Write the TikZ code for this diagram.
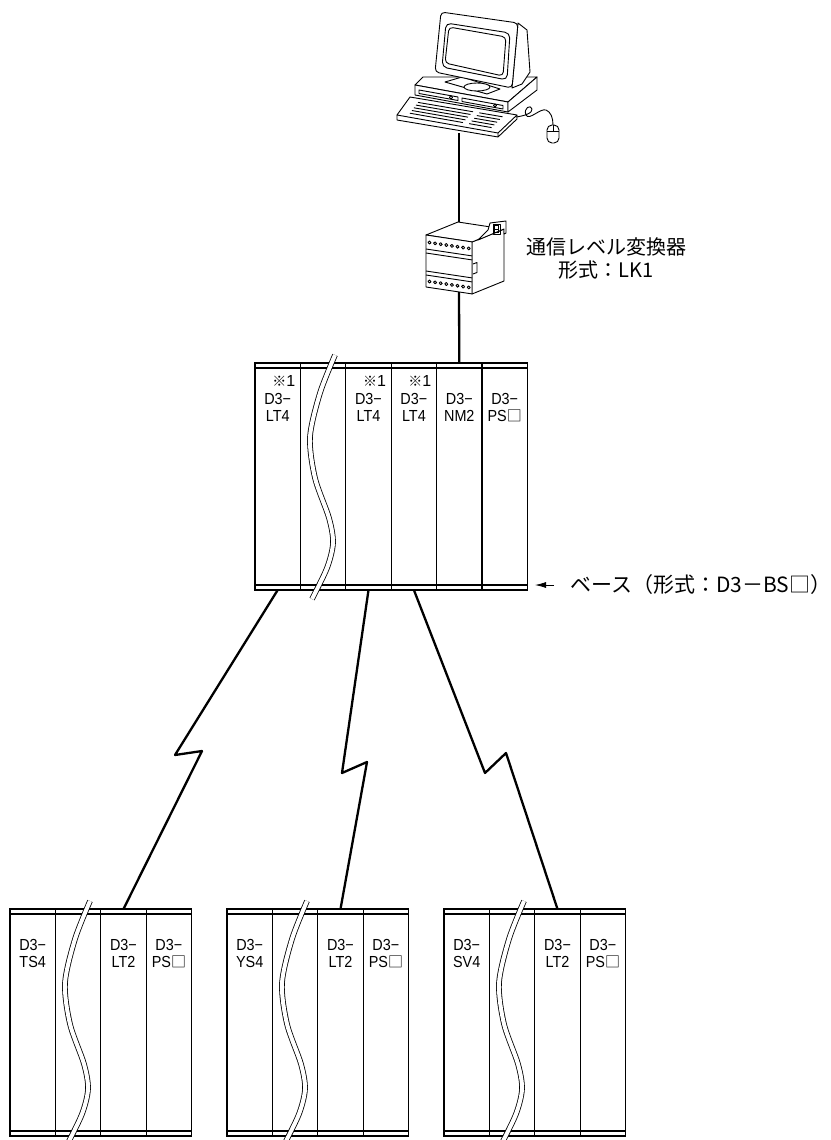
\documentclass[tikz,border=0pt]{standalone}
\usepackage{fontspec}
\setmainfont{Liberation Sans}
\newfontfamily\jpfont{Noto Sans CJK JP}
\newfontfamily\slotfont[FakeStretch=0.9]{Liberation Sans}
\usetikzlibrary{arrows.meta, calc}

\newcommand{\baserack}[4]{%
  \begin{scope}[shift={(#2,#3)}]
    \draw[rackline] (0,0) rectangle (#4*45.4,227);
    \draw[rackline] (0,5) -- (#4*45.4,5) (0,222) -- (#4*45.4,222);
    \foreach \i in {1,...,#4} {
      \draw[rackline] (\i*45.4,0) -- (\i*45.4,227);
      \coordinate (#1-\i-top) at (\i*45.4-22.7,0);
      \coordinate (#1-\i-bot) at (\i*45.4-22.7,227);
    }
    \draw[breakline] plot[smooth] coordinates {(80,-8) (65,30) (55,74) (60,115) (74,155) (78,180) (72,205) (57,236)};
  \end{scope}}
\newcommand{\sq}{{\jpfont\fontsize{7.5}{7.5}\selectfont □}}

\begin{document}
\begin{tikzpicture}[x=0.5pt, y=-0.5pt,
  rackline/.style={line width=0.6pt},
  breakline/.style={double, double distance=2pt, line width=0.4pt},
  link/.style={line width=1.15pt, line join=round},
  sketch/.style={line width=0.45pt, line join=round},
  slot/.style={font=\slotfont\fontsize{8}{8.5}\selectfont, align=center, anchor=north, inner sep=0pt},
  note/.style={font=\fontsize{8}{8}\selectfont, anchor=north, inner sep=0pt},
  jp/.style={font=\jpfont\fontsize{10}{11.5}\selectfont, align=center, inner sep=0pt},
  pointer/.style={line width=0.4pt, -{Latex[length=5.5pt, width=3pt]}}]
\useasboundingbox (0,0) rectangle (830,1140);

\draw[sketch, fill=white] (415,85) -- (423,77) -- (537,77) -- (508,102) -- cycle;
\draw[sketch, fill=white] (415,85) -- (508,102) -- (508,112) -- (415,95) -- cycle;
\draw[sketch, fill=white] (508,102) -- (537,77) -- (537,90) -- (508,112) -- cycle;
\draw[sketch] (419,90) -- (458,97) -- (458,100.5) -- (419,93.5) -- cycle;
\draw[sketch] (462,98) -- (503,105.5) -- (503,109) -- (462,101.5) -- cycle;
\draw[sketch] (451,97.3) circle (0.8pt) (495,105.5) circle (0.8pt);

\coordinate (kb-bl) at (410,97);
\coordinate (kb-br) at (517,115);
\coordinate (kb-fr) at (498,133);
\coordinate (kb-fl) at (397,115);
\draw[sketch, fill=white] (kb-bl) -- (kb-br) -- (kb-fr) -- (kb-fl) -- cycle;
\draw[sketch] (kb-fl) -- (397,120) -- (498,137) -- (517,119) -- (kb-br) (kb-fr) -- (498,137);
\foreach \t in {0.2,0.35,0.5,0.65,0.8} {
  \draw[sketch] ($($(kb-bl)!\t!(kb-fl)$)!0.1!($(kb-br)!\t!(kb-fr)$)$) -- ($($(kb-bl)!\t!(kb-fl)$)!0.62!($(kb-br)!\t!(kb-fr)$)$);
  \draw[sketch] ($($(kb-bl)!\t!(kb-fl)$)!0.68!($(kb-br)!\t!(kb-fr)$)$) -- ($($(kb-bl)!\t!(kb-fl)$)!0.9!($(kb-br)!\t!(kb-fr)$)$);
}

\draw[sketch] (516,117) .. controls (524,116) and (533,113) .. (532,109) .. controls (531,104) and (523,108) .. (526,115) .. controls (529,121) and (540,108) .. (546,110) .. controls (551,112) and (553,118) .. (553,125);
\draw[sketch, fill=white, rounded corners=2.5pt] (547,125) -- (559,125) -- (559,143) -- (547,143) -- cycle;
\draw[sketch] (547,131) -- (559,131) (553,125) -- (553,131);

\draw[sketch, fill=white] (445,82) -- (487,94) -- (500,89) -- (462,77) -- cycle;
\draw[sketch, fill=white] (477,87) ellipse (6.5pt and 2pt);
\draw[sketch, fill=white] (518,23) -- (527,30) -- (530,72) -- (522,84) -- (512,88) -- cycle;
\draw[sketch, fill=white, rounded corners=2pt] (441,12) -- (518,23) -- (512,88) -- (435,72) -- cycle;
\draw[sketch, rounded corners=2.5pt] (446,23) -- (510,33) -- (507,80) -- (442,67) -- cycle;
\draw[sketch, rounded corners=2pt] (449,27) -- (506,37) -- (503,76) -- (445,63) -- cycle;

\coordinate (pc-out) at (459,133);
\coordinate (lk-in) at (459,222);
\coordinate (lk-out) at (459,292);

\draw[sketch, fill=white] (472,242) -- (504,229) -- (504,281) -- (472,294) -- cycle;
\draw[sketch, fill=white] (426,235) -- (458,222) -- (504,229) -- (472,242) -- cycle;
\draw[sketch] (473,264) -- (477,262.5) -- (477,272.5) -- (473,274);
\draw[sketch, fill=white] (478,240) -- (488,230) -- (490,223) -- (506,221) -- (506,233) -- (504,234) -- (504,229) -- cycle;
\draw[sketch] (493,224) rectangle (500,234);
\draw[line width=0.3pt] (494.5,225.5) rectangle (498.5,229) (494.5,229) rectangle (498.5,232.5);
\begin{scope}[shift={(426,235)}, yslant=-0.15]
  \draw[sketch, fill=white] (0,0) rectangle (46,52);
  \draw[sketch] (0,14) -- (46,14) (0,18) -- (46,18) (0,36) -- (46,36) (0,40) -- (46,40);
  \foreach \k in {0,...,7} {
    \draw[sketch] (3.5+5.6*\k,7) circle (0.75pt);
    \draw[sketch] (3.5+5.6*\k,46) circle (0.75pt);
  }
\end{scope}
\node[jp] (lk-label) at (606,258) {通信レベル変換器\\形式：LK1};

\baserack{m}{255}{363}{6}
\baserack{a}{10}{909}{4}
\baserack{b}{227}{909}{4}
\baserack{c}{444}{909}{4}

\draw[link] (pc-out) -- (lk-in);
\draw[link] (lk-out) -- (m-5-top);

\node[note] (m1n) at ([shift={(6,12)}]m-1-top) {{\jpfont\fontsize{7}{7}\selectfont ※}1};
\node[note] (m3n) at ([shift={(6,12)}]m-3-top) {{\jpfont\fontsize{7}{7}\selectfont ※}1};
\node[note] (m4n) at ([shift={(6,12)}]m-4-top) {{\jpfont\fontsize{7}{7}\selectfont ※}1};
\node[slot] (m1) at ([shift={(0,30)}]m-1-top) {D3−\\LT4};
\node[slot] (m3) at ([shift={(0,30)}]m-3-top) {D3−\\LT4};
\node[slot] (m4) at ([shift={(0,30)}]m-4-top) {D3−\\LT4};
\node[slot] (m5) at ([shift={(0,30)}]m-5-top) {D3−\\NM2};
\node[slot] (m6) at ([shift={(0,30)}]m-6-top) {D3−\\PS\sq};

\node[slot] (a1) at ([shift={(0,30)}]a-1-top) {D3−\\TS4};
\node[slot] (a3) at ([shift={(0,30)}]a-3-top) {D3−\\LT2};
\node[slot] (a4) at ([shift={(0,30)}]a-4-top) {D3−\\PS\sq};
\node[slot] (b1) at ([shift={(0,30)}]b-1-top) {D3−\\YS4};
\node[slot] (b3) at ([shift={(0,30)}]b-3-top) {D3−\\LT2};
\node[slot] (b4) at ([shift={(0,30)}]b-4-top) {D3−\\PS\sq};
\node[slot] (c1) at ([shift={(0,30)}]c-1-top) {D3−\\SV4};
\node[slot] (c3) at ([shift={(0,30)}]c-3-top) {D3−\\LT2};
\node[slot] (c4) at ([shift={(0,30)}]c-4-top) {D3−\\PS\sq};

\node[jp, font=\jpfont\fontsize{10.5}{11.5}\selectfont, anchor=west, inner xsep=8pt] (base-label) at (554,585) {ベース（形式：D3－BS□）};
\coordinate (base-tip) at (535,585);
\draw[pointer] (base-label.west) -- (base-tip);

\coordinate (z1a) at (175,755);
\coordinate (z1b) at (202,751);
\coordinate (z2a) at (342,773);
\coordinate (z2b) at (367,762);
\coordinate (z3a) at (485,773);
\coordinate (z3b) at (506,753);
\draw[link] (m-1-bot) -- (z1a) -- (z1b) -- (a-3-top);
\draw[link] (m-3-bot) -- (z2a) -- (z2b) -- (b-3-top);
\draw[link] (m-4-bot) -- (z3a) -- (z3b) -- (c-3-top);
\end{tikzpicture}
\end{document}
